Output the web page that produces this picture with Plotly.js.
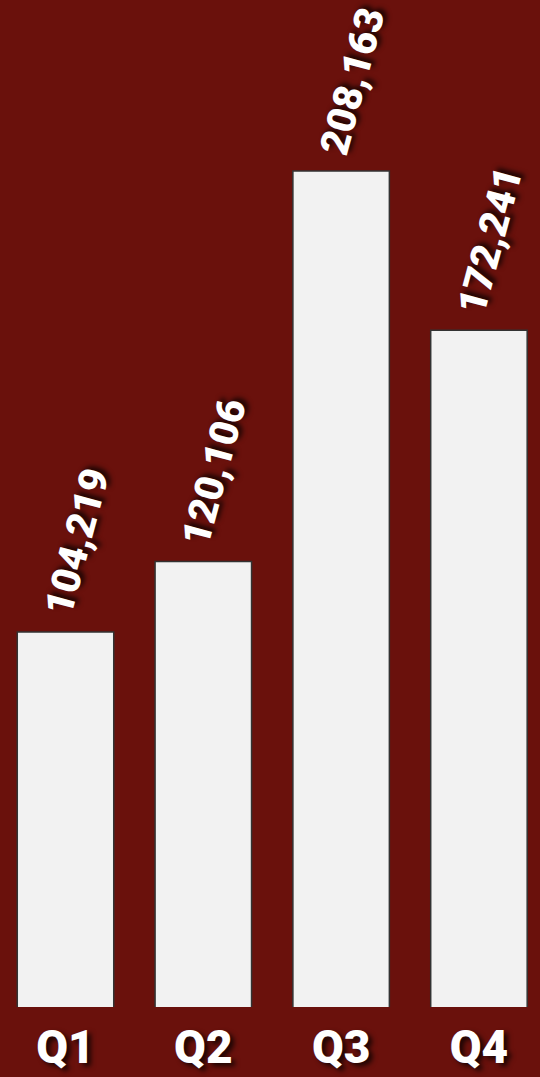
<!DOCTYPE html>
<html><head><meta charset="utf-8">
<script src="https://cdn.plot.ly/plotly-3.0.1.min.js"></script>
<style>html,body{margin:0;padding:0;background:#6a110c;}</style>
</head><body>
<div id="chart" style="width:540px;height:1077px;"></div>
<script>
var categories = ["Q1", "Q2", "Q3", "Q4"];
var values = [104219, 120106, 208163, 172241];

var labelFont = { family: "Roboto, 'Liberation Sans', sans-serif", size: 40, weight: 900, color: "#ffffff",
                  shadow: "4px 3px 5px rgba(0,0,0,0.75)" };

var trace = {
  type: "bar",
  x: [0, 1, 2, 3],
  y: values,
  width: 0.7,
  marker: { color: "#f2f2f2", line: { color: "#333333", width: 1.5 } },
  hoverinfo: "none"
};

var annotations = values.map(function (v, i) {
  return {
    x: i, y: v, xref: "x", yref: "y",
    text: v.toLocaleString("en-US"),
    showarrow: false,
    textangle: -75,
    xanchor: "center", yanchor: "bottom",
    xshift: 11, yshift: 9,
    font: labelFont
  };
});

var layout = {
  width: 540, height: 1077,
  paper_bgcolor: "#6a110c", plot_bgcolor: "#6a110c",
  margin: { l: 0, r: 0, t: 0, b: 70 },
  showlegend: false,
  annotations: annotations,
  xaxis: {
    tickmode: "array", tickvals: [0, 1, 2, 3], ticktext: categories,
    range: [-0.4753, 3.443],
    showgrid: false, zeroline: false, showline: false, ticks: "",
    ticklabelstandoff: 9,
    tickfont: { family: "Roboto, 'Liberation Sans', sans-serif", size: 46, weight: 900, color: "#ffffff",
                shadow: "4px 3px 5px rgba(0,0,0,0.75)" }
  },
  yaxis: { range: [19664, 246721], visible: false, showgrid: false, zeroline: false }
};

Plotly.newPlot("chart", [trace], layout, { staticPlot: true, displayModeBar: false });
</script>
</body></html>
